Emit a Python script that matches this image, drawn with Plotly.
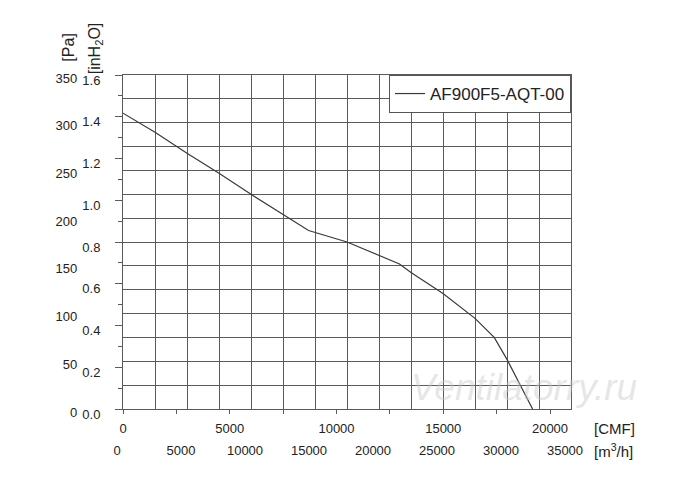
import plotly.graph_objects as go

# data (airflow m3/h, static pressure Pa)
flow_m3h = [0, 2500, 5000, 7500, 10000, 12500, 14500, 17500, 20000, 21600, 22500, 25000, 27500, 29000, 30000, 32000]
pressure_pa = [310, 290, 268, 247, 225, 204, 187, 175, 161, 152, 143, 121, 95, 75, 52, 0]
series_name = "AF900F5-AQT-00"

m3h_ticks = [0, 5000, 10000, 15000, 20000, 25000, 30000, 35000]
cfm_ticks = [0, 5000, 10000, 15000, 20000]
pa_ticks = [0, 50, 100, 150, 200, 250, 300, 350]
inh2o_ticks = [0.0, 0.2, 0.4, 0.6, 0.8, 1.0, 1.2, 1.4, 1.6]

FONT = "Liberation Sans, Arial, sans-serif"
GRID = "#5a5a5a"
TXT = "#222222"

fig = go.Figure()
fig.add_trace(go.Scatter(
    x=flow_m3h, y=pressure_pa, mode="lines", name=series_name,
    line=dict(color="#3a3a3a", width=1.2), xaxis="x", yaxis="y",
))

fig.update_layout(
    width=700, height=482,
    margin=dict(l=115, r=137, t=67, b=81),
    paper_bgcolor="white", plot_bgcolor="white",
    font=dict(family=FONT, size=13, color=TXT),
    showlegend=True,
    legend=dict(x=1, y=1, xanchor="right", yanchor="top",
                bgcolor="white", bordercolor="#555555", borderwidth=1,
                font=dict(size=17, color=TXT, family=FONT)),
    xaxis=dict(
        range=[0, 35000], tickvals=m3h_ticks, ticktext=[str(v) for v in m3h_ticks],
        showgrid=True, gridcolor=GRID, gridwidth=1.3,
        minor=dict(dtick=2500, showgrid=True, gridcolor=GRID, gridwidth=1.3),
        ticks="", showline=True, linecolor=GRID, linewidth=1.3, mirror=True,
        zeroline=False, ticklabelstandoff=29, ticklabelshift=-6,
        tickfont=dict(size=13, color=TXT),
    ),
    xaxis2=dict(
        overlaying="x", side="bottom", anchor="y",
        range=[0, 20000 * 448 / 427], tickvals=cfm_ticks,
        ticktext=[str(v) for v in cfm_ticks],
        ticks="outside", ticklen=4, tickcolor=GRID,
        minor=dict(dtick=2500, ticks="outside", ticklen=4, tickcolor=GRID, showgrid=False),
        showgrid=False, zeroline=False, showline=False,
        ticklabelstandoff=3, tickfont=dict(size=13, color=TXT),
    ),
    yaxis=dict(
        range=[0, 350], tickvals=pa_ticks, ticktext=[str(v) for v in pa_ticks],
        showgrid=True, gridcolor=GRID, gridwidth=1.3,
        minor=dict(dtick=25, showgrid=True, gridcolor=GRID, gridwidth=1.3),
        ticks="", showline=True, linecolor=GRID, linewidth=1.3, mirror=True,
        zeroline=False, ticklabelstandoff=42, ticklabelshift=3,
        tickfont=dict(size=13, color=TXT),
    ),
    yaxis2=dict(
        overlaying="y", side="left", anchor="x",
        range=[0, 1.6], tickvals=inh2o_ticks, ticktext=[f"{v:.1f}" for v in inh2o_ticks],
        ticks="outside", ticklen=7, tickcolor=GRID,
        minor=dict(dtick=0.1, ticks="outside", ticklen=4, tickcolor=GRID, showgrid=False),
        showgrid=False, zeroline=False, showline=False,
        ticklabelstandoff=12, ticklabelshift=5,
        tickfont=dict(size=13, color=TXT),
    ),
)

# invisible helper trace to activate the secondary axes
fig.add_trace(go.Scatter(x=[0], y=[0], xaxis="x2", yaxis="y2", mode="markers",
                         marker=dict(opacity=0), showlegend=False, hoverinfo="skip"))

ann = [
    dict(text="[Pa]", x=-0.1205, y=1.082, textangle=-90, font=dict(size=16)),
    dict(text="[inH<sub>2</sub>O]", x=-0.0625, y=1.080, textangle=-90, font=dict(size=16)),
    dict(text="[CMF]", x=1.047, y=-0.057, xanchor="left", font=dict(size=15)),
    dict(text="[m<sup>3</sup>/h]", x=1.047, y=-0.123, xanchor="left", font=dict(size=15)),
    dict(text="<i>Ventilatorry.ru</i>", x=0.895, y=0.063,
         font=dict(size=37, color="rgba(200,200,200,0.45)", family="Liberation Sans")),
]
for a in ann:
    a.setdefault("xanchor", "center")
    fig.add_annotation(xref="paper", yref="paper", showarrow=False, yanchor="middle", **a)

fig.write_html("out.html")
